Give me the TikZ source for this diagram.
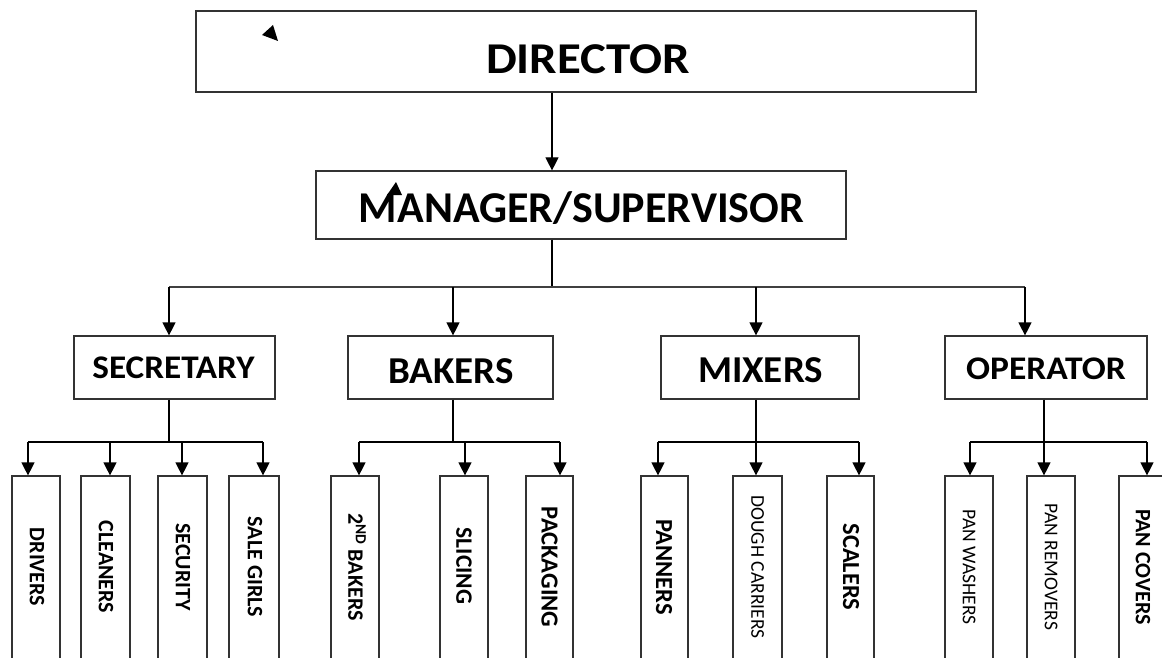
\documentclass[tikz,border=0pt]{standalone}
\usepackage{fontspec}
\setmainfont{Carlito}
\usetikzlibrary{arrows.meta}
\begin{document}
\begin{tikzpicture}[x=1pt,y=-1pt,
  box/.style={draw=black!80, line width=1.2pt, inner sep=0pt, minimum height=#1},
  box/.default=63pt,
  tall/.style={draw=black!80, line width=1.2pt, inner sep=0pt, minimum height=186pt},
  link/.style={draw=black, line width=1.2pt},
  arr/.style={link, -{Triangle[width=13pt,length=13pt]}},
  head/.style={font=\bfseries\fontsize{#1}{#1}\selectfont, anchor=base, inner sep=0pt},
  vlab/.style={font=\bfseries\fontsize{#1}{#1}\selectfont, rotate=-90, inner sep=0pt},
  vlab/.default=22,
  vlabr/.style={font=\fontsize{19.5}{19.5}\selectfont, rotate=-90, inner sep=0pt}]
\useasboundingbox (0,0) rectangle (1162,658);

% top levels
\node[box=81pt, minimum width=780pt] (dir) at (586,51.5) {};
\node[head=44] (dirT) at (588,74) {\scalebox{1.11}[1]{DIRECTOR}};
\node[box=68pt, minimum width=530pt] (mgr) at (581,205) {};
\node[head=44] (mgrT) at (581.5,222) {MANAGER/SUPERVISOR};

% departments
\node[box, minimum width=201pt] (sec) at (174.5,367.5) {};
\node[head=33] (secT) at (173.5,378) {\scalebox{1.066}[1]{SECRETARY}};
\node[box, minimum width=205pt] (bak) at (450.5,367.5) {};
\node[head=38] (bakT) at (451,383) {\scalebox{1.025}[1]{BAKERS}};
\node[box, minimum width=198pt] (mix) at (760,367.5) {};
\node[head=38] (mixT) at (760.5,382) {\scalebox{1.025}[1]{MIXERS}};
\node[box, minimum width=202pt] (ope) at (1046,367.5) {};
\node[head=33] (opeT) at (1046,379) {\scalebox{1.076}[1]{OPERATOR}};

% staff columns
\node[tall, minimum width=48pt] (drv) at (36,569) {};
\node[vlab] at (37,567) {DRIVERS};
\node[tall, minimum width=49pt] (cln) at (105.5,569) {};
\node[vlab] at (106,567) {CLEANERS};
\node[tall, minimum width=49pt] (scy) at (182.5,569) {};
\node[vlab] at (183,567) {SECURITY};
\node[tall, minimum width=50pt] (sal) at (254,569) {};
\node[vlab] at (255,567) {SALE GIRLS};
\node[tall, minimum width=48pt] (bk2) at (355,569) {};
\node[vlab] at (357,567) {2\textsuperscript{ND} BAKERS};
\node[tall, minimum width=48pt] (slc) at (464,569) {};
\node[vlab=23.5] at (464,566) {SLICING};
\node[tall, minimum width=47pt] (pkg) at (549.5,569) {};
\node[vlab=24.5] at (549.5,567) {PACKAGING};
\node[tall, minimum width=47pt] (pan) at (664.5,569) {};
\node[vlab=24.5] at (664,567) {PANNERS};
\node[tall, minimum width=49pt] (dgh) at (757.5,569) {};
\node[vlabr] at (757.5,567) {DOUGH CARRIERS};
\node[tall, minimum width=47pt] (scl) at (850.5,569) {};
\node[vlab=24.5] at (851,567) {SCALERS};
\node[tall, minimum width=48pt] (pwa) at (969,569) {};
\node[vlabr] at (969,567) {PAN WASHERS};
\node[tall, minimum width=48pt] (pre) at (1051,569) {};
\node[vlabr] at (1051,567) {PAN REMOVERS};
\node[tall, minimum width=49pt] (pco) at (1143.5,569) {};
\node[vlab] at (1143,567) {PAN COVERS};

% director to manager
\coordinate (xdm) at (552,0);
\draw[arr] (dir.south -| xdm) -- (mgr.north -| xdm);

% manager to departments
\coordinate (busM) at (552,287);
\coordinate (jSec) at (169,287);
\coordinate (jBak) at (453,287);
\coordinate (jMix) at (756,287);
\coordinate (jOpe) at (1025,287);
\draw[link] (mgr.south -| busM) -- (busM);
\draw[link, draw=black!75] (jSec) -- (jOpe);
\foreach \j/\b in {jSec/sec, jBak/bak, jMix/mix, jOpe/ope}
  \draw[arr] (\j) -- (\j |- \b.north);

% secretary branch
\coordinate (sBus) at (169,442);
\coordinate (s1) at (28,442);
\coordinate (s2) at (110,442);
\coordinate (s3) at (182,442);
\coordinate (s4) at (263,442);
\draw[link] (sec.south -| sBus) -- (sBus);
\draw[link] (s1) -- (s4);
\foreach \j/\b in {s1/drv, s2/cln, s3/scy, s4/sal}
  \draw[arr] (\j) -- (\j |- \b.north);

% bakers branch
\coordinate (bBus) at (453,442);
\coordinate (b1) at (359,442);
\coordinate (b2) at (465,442);
\coordinate (b3) at (560,442);
\draw[link] (bak.south -| bBus) -- (bBus);
\draw[link] (b1) -- (b3);
\foreach \j/\b in {b1/bk2, b2/slc, b3/pkg}
  \draw[arr] (\j) -- (\j |- \b.north);

% mixers branch
\coordinate (mBus) at (756,442);
\coordinate (m1) at (658,442);
\coordinate (m2) at (756,442);
\coordinate (m3) at (859,442);
\draw[link] (mix.south -| mBus) -- (mBus);
\draw[link] (m1) -- (m3);
\foreach \j/\b in {m1/pan, m2/dgh, m3/scl}
  \draw[arr] (\j) -- (\j |- \b.north);

% operator branch
\coordinate (oBus) at (1044,442);
\coordinate (o1) at (970,442);
\coordinate (o2) at (1044,442);
\coordinate (o3) at (1147,442);
\draw[link] (ope.south -| oBus) -- (oBus);
\draw[link] (o1) -- (o3);
\foreach \j/\b in {o1/pwa, o2/pre, o3/pco}
  \draw[arr] (\j) -- (\j |- \b.north);

% loose arrowheads
\fill (262,35) -- (273,25) -- (278,41) -- cycle;
\fill (396,182) -- (387,195) -- (402,195) -- cycle;
\end{tikzpicture}
\end{document}
